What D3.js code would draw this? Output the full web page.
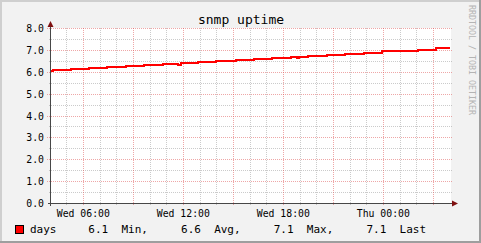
<!DOCTYPE html>
<html>
<head>
<meta charset="utf-8">
<script src="https://cdn.jsdelivr.net/npm/d3@7"></script>
<style>
html,body{margin:0;padding:0;background:#f2f2f2;}
svg{display:block;}
text{font-family:"DejaVu Sans Mono",monospace;}
</style>
</head>
<body>
<script>
// ---- data ----
const title = "snmp uptime";
const seriesName = "days";
// hours after Wed 04:00, and uptime in days (step series as drawn)
const hours = [0, 0.18, 1.26, 2.34, 3.42, 4.54, 5.64, 6.76, 7.70, 7.86, 8.90, 9.98, 11.16, 12.24, 13.30, 14.46, 14.80, 14.94, 15.50, 16.64, 17.70, 17.88, 18.84, 19.90, 20.94, 22.06, 23.14, 24.0];
const days  = [6.06, 6.09, 6.14, 6.19, 6.23, 6.28, 6.33, 6.38, 6.33, 6.42, 6.47, 6.52, 6.57, 6.61, 6.66, 6.71, 6.64, 6.71, 6.76, 6.80, 6.83, 6.85, 6.90, 6.95, 6.99, 7.04, 7.09, 7.09];
const yTicks = [0, 1, 2, 3, 4, 5, 6, 7, 8];
const yMinorTicks = [0.5, 1.5, 2.5, 3.5, 4.5, 5.5, 6.5, 7.5];
const xTickLabels = ["Wed 06:00", "Wed 12:00", "Wed 18:00", "Thu 00:00"];
const statValues = [6.1, 6.6, 7.1, 7.1];
const statLabels = ["Min,", "Avg,", "Max,", "Last"];
const watermark = "RRDTOOL / TOBI OETIKER";

// ---- setup ----
const W = 481, H = 243;
const t0 = new Date(2024, 0, 3, 4, 0, 0); // Wednesday 04:00
const t1 = new Date(2024, 0, 4, 4, 0, 0);
const toDate = h => new Date(t0.getTime() + h * 3600000);

const x = d3.scaleTime().domain([t0, t1]).range([50, 450]);
const y = d3.scaleLinear().domain([0, 8]).range([203.5, 28.5]);
const px = v => Math.floor(v) + 0.5;

const svg = d3.select("body").append("svg").attr("width", W).attr("height", H);

// background and 3d frame
svg.append("rect").attr("width", W).attr("height", H).attr("fill", "#f2f2f2");
svg.append("path").attr("d", `M0,${H}V0H${W}`).attr("fill", "none").attr("stroke", "#cfcfcf").attr("stroke-width", 4);
svg.append("path").attr("d", `M0,${H}H${W}V0`).attr("fill", "none").attr("stroke", "#9e9e9e").attr("stroke-width", 4);

// canvas
svg.append("rect").attr("x", 51).attr("y", 28).attr("width", 400).attr("height", 176).attr("fill", "#ffffff");

const grid = svg.append("g");
const minorC = "rgba(140,140,140,0.45)", majorC = "rgba(222,80,80,0.5)";

// horizontal minor
grid.selectAll(".hmin").data(yMinorTicks).join("line")
  .attr("x1", 49).attr("x2", 452)
  .attr("y1", d => px(y(d))).attr("y2", d => px(y(d)))
  .attr("stroke", minorC).attr("stroke-dasharray", "1,1").attr("shape-rendering", "crispEdges");
// vertical minor (every hour)
const hourTicks = d3.timeHour.range(t0, t1).filter(d => d > t0);
grid.selectAll(".vmin").data(hourTicks.filter(d => d.getHours() % 3 !== 0)).join("line")
  .attr("x1", d => px(x(d))).attr("x2", d => px(x(d)))
  .attr("y1", 28).attr("y2", 205)
  .attr("stroke", minorC).attr("stroke-dasharray", "1,1").attr("shape-rendering", "crispEdges");
// horizontal major
grid.selectAll(".hmaj").data(yTicks.filter(d => d > 0)).join("line")
  .attr("x1", 47).attr("x2", 453)
  .attr("y1", d => px(y(d))).attr("y2", d => px(y(d)))
  .attr("stroke", majorC).attr("stroke-dasharray", "1,1").attr("shape-rendering", "crispEdges");
// vertical major (every 3 hours)
const majorTimes = hourTicks.filter(d => d.getHours() % 3 === 0);
grid.selectAll(".vmaj").data(majorTimes).join("line")
  .attr("x1", d => px(x(d))).attr("x2", d => px(x(d)))
  .attr("y1", 28).attr("y2", 206)
  .attr("stroke", majorC).attr("stroke-dasharray", "1,1").attr("shape-rendering", "crispEdges");

// data line
const pts = hours.map((h, i) => ({t: toDate(h), v: days[i]}));
const line = d3.line()
  .x(d => Math.round(x(d.t)))
  .y(d => Math.round(y(d.v)))
  .curve(d3.curveStepAfter);
svg.append("path").datum(pts).attr("d", line)
  .attr("fill", "none").attr("stroke", "#ff0000").attr("stroke-width", 2)
  .attr("shape-rendering", "crispEdges");

// axes
const axisC = "#474747", arrowC = "#7f1010";
svg.append("line").attr("x1", 48).attr("x2", 454).attr("y1", 203.5).attr("y2", 203.5)
  .attr("stroke", axisC).attr("stroke-width", 1).attr("shape-rendering", "crispEdges");
svg.append("line").attr("x1", 50.5).attr("x2", 50.5).attr("y1", 206).attr("y2", 25)
  .attr("stroke", axisC).attr("stroke-width", 1).attr("shape-rendering", "crispEdges");
svg.append("path").attr("d", "M452,200.5L458,203.5L452,206.5Z").attr("fill", arrowC);
svg.append("path").attr("d", "M47.5,27L50.5,21L53.5,27Z").attr("fill", arrowC);

// y labels
svg.selectAll(".ylab").data(yTicks).join("text")
  .attr("x", 44).attr("y", d => px(y(d)) + 3.5)
  .attr("text-anchor", "end").attr("font-size", "9.8px").attr("fill", "#000")
  .text(d => d3.format(".1f")(d));

// x labels (every 6 hours)
const labelTimes = hourTicks.filter(d => d.getHours() % 6 === 0);
svg.selectAll(".xlab").data(labelTimes).join("text")
  .attr("x", d => x(d)).attr("y", 216.5)
  .attr("text-anchor", "middle").attr("font-size", "9.8px").attr("fill", "#000")
  .text((d, i) => xTickLabels[i]);

// title
svg.append("text").attr("x", 241).attr("y", 23.5).attr("text-anchor", "middle")
  .attr("font-size", "13px").attr("fill", "#000").text(title);

// watermark
svg.append("text").attr("transform", "translate(468.5,5) rotate(90)")
  .attr("font-size", "8.3px").attr("fill", "#b4b4b4").text(watermark);

// legend
svg.append("rect").attr("x", 15.5).attr("y", 225.5).attr("width", 8).attr("height", 8)
  .attr("fill", "#ff0000").attr("stroke", "#000").attr("stroke-width", 1);
svg.append("text").attr("x", 30).attr("y", 233).attr("font-size", "11px").attr("fill", "#000").text(seriesName);
const statStr = statValues.map((v, i) => (i === 0 ? "" : "     ") + d3.format(".1f")(v) + "  " + statLabels[i]).join("");
svg.append("text").attr("x", 88.3).attr("y", 233).attr("font-size", "11px").attr("fill", "#000")
  .attr("xml:space", "preserve").style("white-space", "pre").text(statStr);
</script>
</body>
</html>
